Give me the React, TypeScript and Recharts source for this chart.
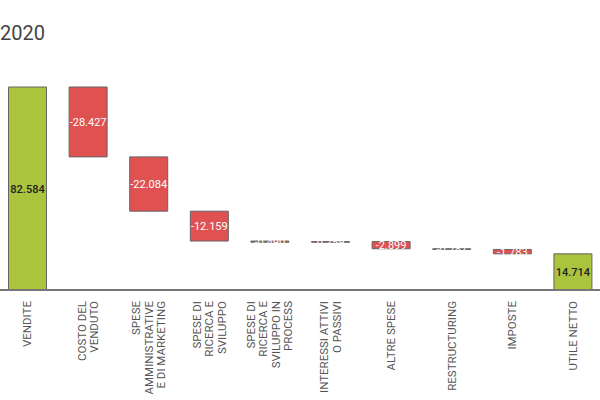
import React from "react";
import { BarChart, Bar, XAxis, YAxis, Cell, LabelList } from "recharts";

// voci del conto economico 2020
const categories = [
  "VENDITE",
  "COSTO DEL VENDUTO",
  "SPESE AMMINISTRATIVE E DI MARKETING",
  "SPESE DI RICERCA E SVILUPPO",
  "SPESE DI RICERCA E SVILUPPO IN PROCESS",
  "INTERESSI ATTIVI O PASSIVI",
  "ALTRE SPESE",
  "RESTRUCTURING",
  "IMPOSTE",
  "UTILE NETTO",
];

// righe delle etichette ruotate
const tickLines: string[][] = [
  ["VENDITE"],
  ["COSTO DEL", "VENDUTO"],
  ["SPESE", "AMMINISTRATIVE", "E DI MARKETING"],
  ["SPESE DI", "RICERCA E", "SVILUPPO"],
  ["SPESE DI", "RICERCA E", "SVILUPPO IN", "PROCESS"],
  ["INTERESSI ATTIVI", "O PASSIVI"],
  ["ALTRE SPESE"],
  ["RESTRUCTURING"],
  ["IMPOSTE"],
  ["UTILE NETTO"],
];

const deltas = [82.584, -28.427, -22.084, -12.159, -0.49, 0.259, -2.899, -0.287, -1.783, 14.714];
const isTotal = [true, false, false, false, false, false, false, false, false, true];

const fmt = (v: number) => v.toFixed(3);

const data = (() => {
  let run = 0;
  return categories.map((name, i) => {
    const d = deltas[i];
    let low: number, high: number;
    if (isTotal[i]) {
      low = 0;
      high = d;
      run = d;
    } else {
      const next = run + d;
      low = Math.min(run, next);
      high = Math.max(run, next);
      run = next;
    }
    return { name, idx: i, range: [low, high], delta: d, total: isTotal[i] };
  });
})();

const GREEN = "#abc43e";
const RED = "#e05151";

const Tick = (props: any) => {
  const { x, y, payload } = props;
  const lines = tickLines[payload.index] || [payload.value];
  const n = lines.length;
  return (
    <g transform={`translate(${x},${y + 3})`}>
      {lines.map((l, k) => (
        <text
          key={k}
          transform={`rotate(-90)`}
          x={0}
          y={(k - (n - 1) / 2) * 12.5 + 4}
          textAnchor="end"
          fontSize={11.5}
          fill="#555"
          fontFamily="Roboto, sans-serif"
        >
          {l}
        </text>
      ))}
    </g>
  );
};

const ValueLabel = (props: any) => {
  const { x, y, width, height, index } = props;
  const d = deltas[index];
  return (
    <text
      x={x + width / 2}
      y={y + height / 2 + 4}
      textAnchor="middle"
      fontSize={11}
      fill={isTotal[index] ? "#222" : "#fff"}
      fontWeight={isTotal[index] ? 500 : 400}
      fontFamily="Roboto, sans-serif"
    >
      {fmt(d)}
    </text>
  );
};

export default function App() {
  return (
    <div>
      <div
        style={{
          position: "absolute",
          left: 0,
          top: 21,
          fontFamily: "Roboto, sans-serif",
          fontSize: 20,
          color: "#444",
        }}
      >
        2020
      </div>
      <div style={{ position: "absolute", left: -3, top: 0 }}>
        <BarChart
          width={606}
          height={400}
          data={data}
          margin={{ top: 87, right: 0, bottom: 0, left: 0 }}
          barCategoryGap="19%"
        >
          <XAxis
            dataKey="name"
            interval={0}
            height={110}
            tickLine={false}
            axisLine={{ stroke: "#777", strokeWidth: 2 }}
            tick={<Tick />}
          />
          <YAxis hide domain={[0, 82.584]} />
          <Bar dataKey="range" isAnimationActive={false} stroke="#666" strokeWidth={1}>
            {data.map((e, i) => (
              <Cell key={i} fill={e.total ? GREEN : RED} />
            ))}
            <LabelList dataKey="delta" content={<ValueLabel />} />
          </Bar>
        </BarChart>
      </div>
    </div>
  );
}
